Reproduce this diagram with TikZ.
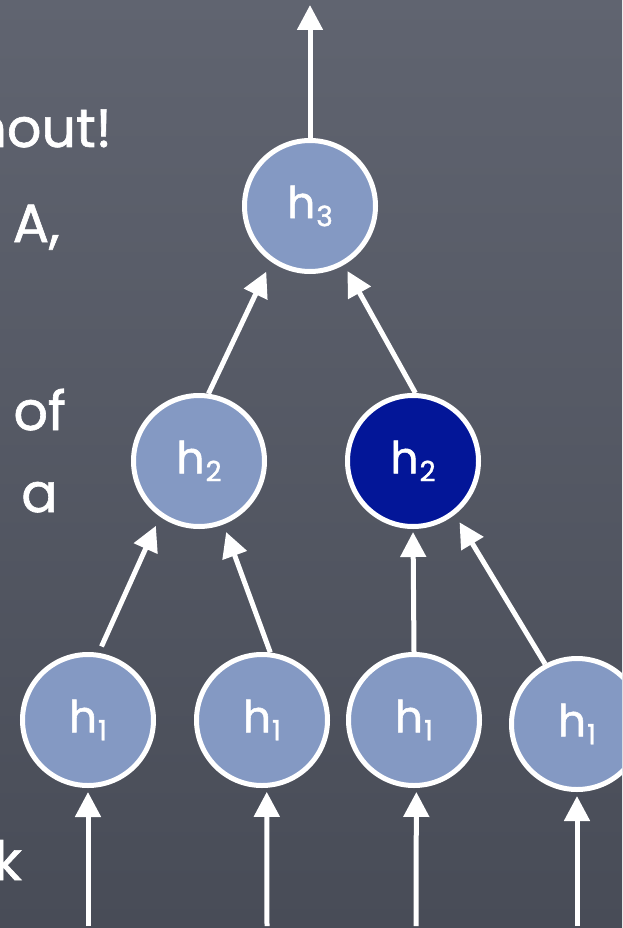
\documentclass[tikz,border=0pt]{standalone}
\usepackage{fontspec}
\setmainfont{Poppins}[FakeBold=1.2]
\usetikzlibrary{arrows.meta}
\definecolor{boardtop}{RGB}{96,100,112}
\definecolor{boardbot}{RGB}{72,76,87}
\definecolor{nodeblue}{RGB}{132,153,195}
\definecolor{nodedark}{RGB}{3,22,152}
\newcommand{\hsub}[1]{h\kern1pt\raisebox{-8pt}{\fontsize{28pt}{28pt}\selectfont #1}}
\begin{document}
\begin{tikzpicture}[x=1pt,y=-1pt,
  hnode/.style={circle, draw=white, line width=5pt, minimum size=131pt, inner sep=0pt,
    fill=nodeblue, text=white, font=\fontsize{44pt}{44pt}\selectfont},
  conn/.style={draw=white, line width=5pt, -{Triangle[width=25pt,length=25pt]}},
  lefttext/.style={text=white, font=\fontsize{54pt}{54pt}\selectfont, anchor=base east, inner sep=0pt}]
\useasboundingbox (0,0) rectangle (622,928);
\clip (0,0) rectangle (622,928);
\shade[top color=boardtop, bottom color=boardbot] (0,0) rectangle (622,928);

% left text (cut off at the left edge, as in the reference)
\node[lefttext] (t1) at (112,147) {hout!};
\node[lefttext] (t2) at (60,242) {A,};
\node[lefttext] (t3) at (66,430) {of};
\node[lefttext] (t4) at (58,512) {a};
\node[lefttext] (t5) at (22,880) {k};

% nodes
\node[hnode] (h3) at (310,206) {\hsub{3}};
\node[hnode] (h2a) at (199,461) {\hsub{2}};
\node[hnode, fill=nodedark] (h2b) at (413,461) {\hsub{2}};
\node[hnode] (h1a) at (88,720) {\hsub{1}};
\node[hnode] (h1b) at (262,720) {\hsub{1}};
\node[hnode] (h1c) at (414,720) {\hsub{1}};
\node[hnode] (h1d) at (577,724) {\hsub{1}};

% free ends
\coordinate (out) at (310,5);
\coordinate (ina) at (88,926);
\coordinate (inb) at (267,926);
\coordinate (inc) at (416,926);
\coordinate (ind) at (577,926);

% connectors
\draw[conn] (h3.north) -- (out);
\draw[conn, shorten >=4pt] (ina) -- (h1a.south);
\draw[conn, shorten >=4pt] (inb) -- (h1b.-86);
\draw[conn, shorten >=4pt] (inc) -- (h1c.-88);
\draw[conn, shorten >=4pt] (ind) -- (h1d.south);

\draw[conn, shorten <=7pt, shorten >=10pt] (h1a.81) -- (h2a.235);
\draw[conn, shorten >=8pt] (h1b.83) -- (h2a.291);
\draw[conn, shorten >=3pt] (h1c.90) -- (h2b.270);
\draw[conn, shorten >=9pt] (h1d.118) -- (h2b.308);
\draw[conn, shorten >=11pt] (h2a.82) -- (h3.235);
\draw[conn, shorten >=7pt] (h2b.88) -- (h3.300);
\end{tikzpicture}
\end{document}
